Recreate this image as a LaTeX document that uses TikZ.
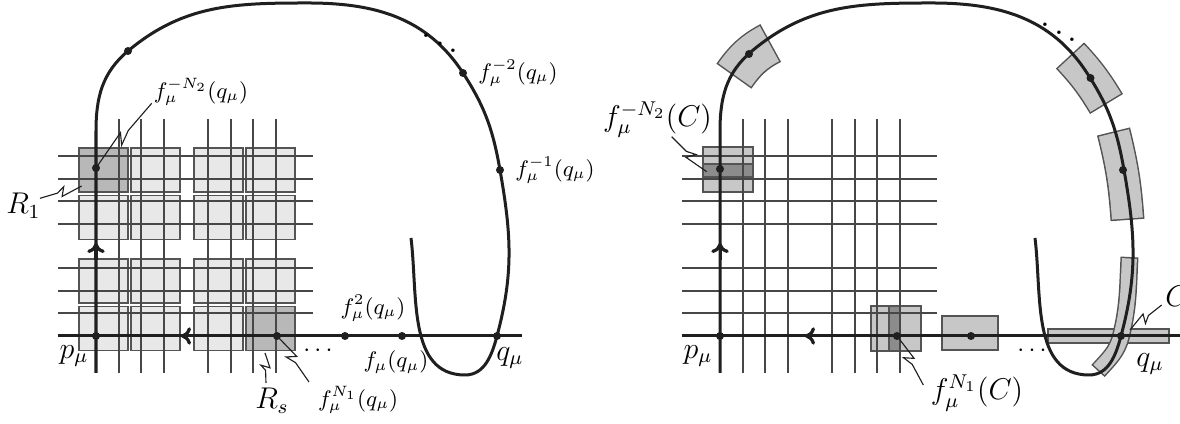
\documentclass[tikz,border=0pt]{standalone}
\usetikzlibrary{calc,arrows.meta}

\definecolor{boxlight}{gray}{0.91}
\definecolor{boxdark}{gray}{0.72}
\definecolor{boxmid}{gray}{0.78}
\definecolor{stripdark}{gray}{0.55}
\definecolor{gridgray}{gray}{0.28}
\definecolor{edgegray}{gray}{0.33}
\definecolor{curvegray}{gray}{0.12}

\newcommand{\zigline}[2]{%
  \draw[leader] (#1) -- ($(#1)!0.42!(#2)$) -- ($(#1)!0.6!(#2)!1.8pt!90:(#2)$)
    -- ($(#1)!0.5!(#2)!1.8pt!-90:(#2)$) -- (#2);}

\newcommand{\curvedbox}[2]{%
  \draw[line width=#1pt+1.2pt, edgegray] #2;
  \draw[line width=#1pt, boxmid, shorten <=0.6pt, shorten >=0.6pt] #2;}

\newcommand{\skeleton}[1]{%
  \foreach \gx in {22.5,45,67.5,112,134.5,157,179.5}{
    \draw[gridl] (\gx,-37) -- (\gx,217);
    \draw[gridl] (-38,\gx) -- (217,\gx);
  }
  \draw[manif] (-38,0) -- (#1,0);
  \draw[manif] (0,-37) -- (0,205) to[out=90,in=220] (32,285)
    to[out=40,in=180] (212,333) to[out=0,in=123] (367,263)
    to[out=-57,in=100] (404,166) to[out=-80,in=75] (401,0)
    to[out=-105,in=0] (369,-39) to[out=180,in=-83] (315,98);
  \draw[flow] (0,76) -- (0,93);
  \draw[flow] (102,0) -- (85,0);
}

\begin{document}
\begin{tikzpicture}[x=0.4pt,y=0.4pt,
    every node/.style={inner sep=1pt},
    gridl/.style={draw=gridgray,line width=0.8pt},
    manif/.style={draw=curvegray,line width=1.2pt},
    flow/.style={manif,-{Computer Modern Rightarrow[length=4pt,width=7pt,line width=1.3pt]}},
    leader/.style={draw=curvegray,line width=0.45pt},
    lightbox/.style={fill=boxlight,draw=edgegray,line width=0.6pt},
    darkbox/.style={fill=boxdark,draw=edgegray,line width=0.6pt},
    midbox/.style={fill=boxmid,draw=edgegray,line width=0.6pt},
    stripbox/.style={fill=stripdark,draw=edgegray,line width=0.6pt},
    small/.style={font=\small},
    big/.style={font=\large},
    dotsfont/.style={font=\Large},
  ]
\useasboundingbox (-96,-88) rectangle (1084,336);

\foreach \cx in {7.5,59.5,122.5,174.5}
  \foreach \cy in {7.5,55,118.5,166}
    \draw[lightbox] (\cx-24.5,\cy-22) rectangle (\cx+24.5,\cy+22);
\draw[darkbox] (-17,144) rectangle (32,188);
\draw[darkbox] (150,-14.5) rectangle (199,29.5);
\skeleton{426}

\coordinate (p) at (0,0);
\coordinate (a) at (0,168);
\coordinate (d1) at (32,285);
\coordinate (d2) at (367,263);
\coordinate (d3) at (404,166);
\coordinate (q) at (401,0);
\coordinate (f1) at (306,0);
\coordinate (f2) at (249,0);
\coordinate (fn) at (181,0);
\foreach \c in {p,a,d1,d2,d3,q,f1,f2,fn}
  \fill[curvegray] (\c) circle (4);

\node[small] (lab-fn2) at (105,244) {$f_\mu^{-N_2}(q_\mu)$};
\node[big] (lab-r1) at (-72.5,130) {$R_1$};
\node[big] (lab-p) at (-22,-20) {$p_\mu$};
\node[big] (lab-q) at (414,-22) {$q_\mu$};
\node[small] (lab-f1) at (300,-26) {$f_\mu(q_\mu)$};
\node[small] (lab-f2) at (277,28) {$f^2_\mu(q_\mu)$};
\node[small] (lab-fm2) at (422,263) {$f_\mu^{-2}(q_\mu)$};
\node[small] (lab-fm1) at (459,166) {$f_\mu^{-1}(q_\mu)$};
\node[big] (lab-rs) at (176,-65) {$R_s$};
\node[small] (lab-fn1) at (262,-64) {$f_\mu^{N_1}(q_\mu)$};
\node (lab-dots1) at (222,-15) {$\cdots$};
\node[dotsfont] (lab-dots2) at (344,300) {$\ddots$};

\coordinate (l-fn2) at (55.7,232.7);
\coordinate (l-r1) at (-56,137.7);
\coordinate (t-r1) at (-14.3,150);
\coordinate (l-rs) at (170,-47);
\coordinate (t-rs) at (169,-17);
\coordinate (l-fn1) at (213,-46);
\zigline{l-fn2}{a}
\zigline{l-r1}{t-r1}
\zigline{l-rs}{t-rs}
\zigline{l-fn1}{fn}

\begin{scope}[shift={(624,0)}]
\draw[midbox] (-17,144) rectangle (33,189);
\draw[stripbox] (-17,159) rectangle (33,172);
\draw[midbox] (151,-15) rectangle (201,30);
\draw[stripbox] (169,-15) rectangle (180,30);
\draw[midbox] (222,-14) rectangle (278,20);
\draw[midbox] (328,-7) rectangle (449,7);
\curvedbox{16}{(13.9,259.8) to[out=55,in=208] (50.7,293)}
\curvedbox{14.2}{(350,280.5) to[out=-47,in=121] (386.5,232)}
\curvedbox{12.4}{(393.5,204.5) to[out=-76,in=94] (407.5,116)}
\curvedbox{6}{(409.5,79) to[out=-93,in=76] (401,0) to[out=-104,in=48] (378,-35)}
\skeleton{470}

\coordinate (rp) at (0,0);
\coordinate (ra) at (0,167);
\coordinate (rd1) at (29,282);
\coordinate (rd2) at (370.5,258);
\coordinate (rd3) at (403,166);
\coordinate (rq) at (401,0);
\coordinate (rb2) at (177,0);
\coordinate (rb3) at (251,0);
\foreach \c in {rp,ra,rd1,rd2,rd3,rq,rb2,rb3}
  \fill[curvegray] (\c) circle (4);

\node[big] (rlab-fn2) at (-62.5,216.5) {$f_\mu^{-N_2}(C)$};
\node[big] (rlab-fn1) at (257,-57) {$f_\mu^{N_1}(C)$};
\node[big] (rlab-p) at (-22,-20) {$p_\mu$};
\node[big] (rlab-q) at (430,-28) {$q_\mu$};
\node[big] (rlab-c) at (457,40) {$C$};
\node (rlab-dots1) at (312,-15) {$\cdots$};
\node[dotsfont] (rlab-dots2) at (339,311) {$\ddots$};

\coordinate (rl-fn2) at (-48.3,199.3);
\coordinate (rt-fn2) at (-13.3,164.3);
\coordinate (rl-fn1) at (203.3,-49);
\coordinate (rl-c) at (441.7,31);
\coordinate (rt-c) at (410,6);
\zigline{rl-fn2}{rt-fn2}
\zigline{rl-fn1}{rb2}
\zigline{rl-c}{rt-c}
\end{scope}
\end{tikzpicture}
\end{document}
